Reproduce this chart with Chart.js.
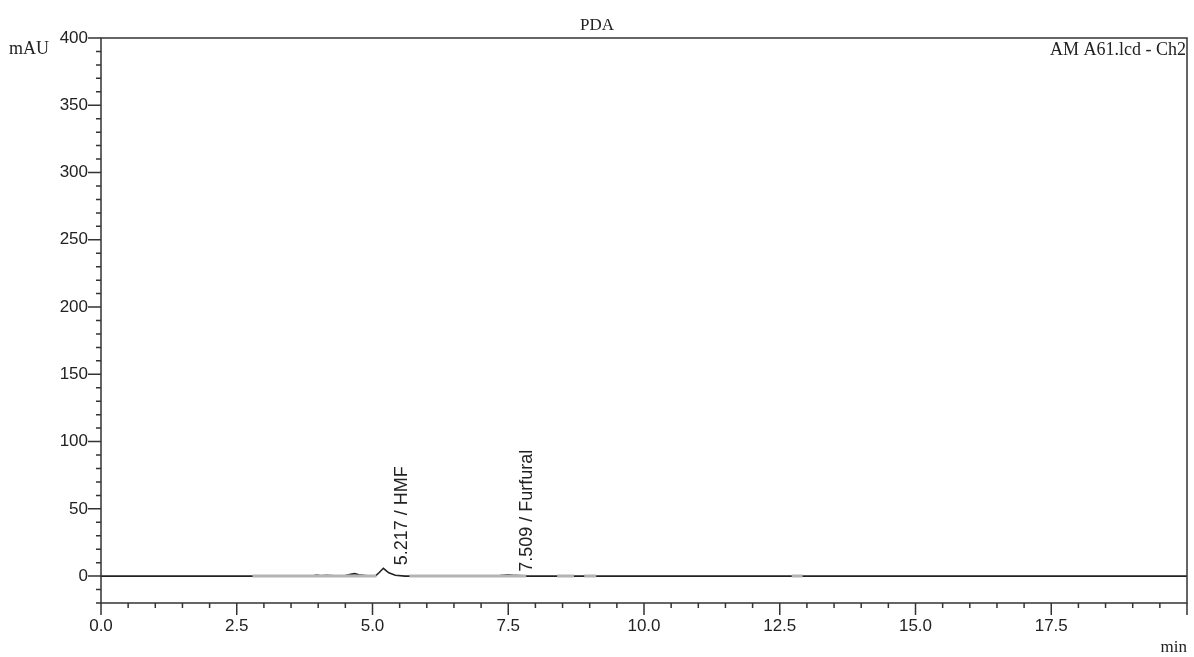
<!DOCTYPE html>
<html>
<head>
<meta charset="utf-8">
<script src="https://cdn.jsdelivr.net/npm/chart.js@4.4.1/dist/chart.umd.min.js"></script>
<style>
  html, body { margin: 0; padding: 0; background: #fff; }
  #wrap { width: 1194px; height: 657px; }
</style>
</head>
<body>
<div id="wrap"><canvas id="pdaChart" width="1194" height="657"></canvas></div>
<script>
// chromatogram trace (min, mAU)
var traceTime = [0, 2.8, 3.3, 3.42, 3.5, 3.6, 3.75, 3.9, 3.97, 4.05, 4.15, 4.3, 4.5, 4.6, 4.67, 4.75, 4.9,
                 5.05, 5.12, 5.2, 5.3, 5.42, 5.6, 6.0, 7.2, 7.35, 7.5, 7.62, 7.85, 8.5, 9.0, 12.8, 20];
var traceMAU  = [0, 0, 0, 0.3, 0.2, 0, 0, 0, 0.8, 0.3, 0.5, 0.2, 0.4, 1.3, 1.8, 1.0, 0.2,
                 0, 2.5, 5.8, 2.4, 0.6, 0, 0, 0, 0.4, 1.0, 0.5, 0, 0, 0, 0, 0];

// integration baselines (grey segments)
var baseStart = [2.79, 5.68, 8.40, 8.90, 12.72];
var baseEnd   = [5.07, 7.83, 8.71, 9.12, 12.92];

// peak labels
var peakTime   = [5.217, 7.509];
var peakHeight = [5.8, 1.0];
var peakName   = ['HMF', 'Furfural'];

var xTicks = [0, 2.5, 5, 7.5, 10, 12.5, 15, 17.5];
var yTicks = [0, 50, 100, 150, 200, 250, 300, 350, 400];

var serif = "'Liberation Serif', 'Times New Roman', serif";
var sans = "'Liberation Sans', Arial, sans-serif";
var ink = '#222';

function isMajor(v, list) {
    return list.some(function (t) { return Math.abs(t - v) < 1e-6; });
}

var traceData = traceTime.map(function (t, i) { return {x: t, y: traceMAU[i]}; });
var baseData = [];
baseStart.forEach(function (s, i) {
    baseData.push({x: s, y: 0}, {x: baseEnd[i], y: 0}, {x: baseEnd[i] + 0.001, y: null});
});

const frameAndTicks = {
    id: 'frameAndTicks',
    afterDraw(chart) {
        const {ctx, chartArea: a, scales} = chart;
        const x = scales.x, y = scales.y;
        ctx.save();
        ctx.strokeStyle = '#333';
        ctx.lineWidth = 1.5;
        ctx.strokeRect(a.left, a.top, a.right - a.left, a.bottom - a.top);
        ctx.beginPath();
        x.ticks.forEach(function (t) {
            const px = x.getPixelForValue(t.value);
            const len = (isMajor(t.value, xTicks) || t.value >= 20) ? 12 : 5;
            ctx.moveTo(px, a.bottom);
            ctx.lineTo(px, a.bottom + len);
        });
        y.ticks.forEach(function (t) {
            const py = y.getPixelForValue(t.value);
            const len = isMajor(t.value, yTicks) ? 13 : 5;
            ctx.moveTo(a.left, py);
            ctx.lineTo(a.left - len, py);
        });
        ctx.stroke();

        // texts
        ctx.fillStyle = ink;
        ctx.font = '17px ' + serif;
        ctx.textBaseline = 'middle';
        ctx.textAlign = 'center';
        ctx.fillText('PDA', 597, 26);
        ctx.textAlign = 'left';
        ctx.font = '18px ' + serif;
        ctx.fillText('mAU', 9, 49);
        ctx.textAlign = 'right';
        ctx.fillText('AM A61.lcd - Ch2', a.right - 1, 50);
        ctx.font = '17px ' + serif;
        ctx.fillText('min', a.right, 648);

        // peak annotations
        peakTime.forEach(function (t, i) {
            const px = x.getPixelForValue(t) + 18;
            const py = y.getPixelForValue(peakHeight[i]) - 3;
            ctx.save();
            ctx.translate(px, py);
            ctx.rotate(-Math.PI / 2);
            ctx.textAlign = 'left';
            ctx.textBaseline = 'middle';
            ctx.font = '18px ' + sans;
            ctx.fillText(t.toFixed(3) + ' / ' + peakName[i], 0, 0);
            ctx.restore();
        });
        ctx.restore();
    }
};

var ctx = document.getElementById('pdaChart').getContext('2d');
var pdaChart = new Chart(ctx, {
    type: 'line',
    data: {
        datasets: [{
            data: baseData,
            borderColor: '#b4b4b4',
            borderWidth: 3,
            pointRadius: 0,
            spanGaps: false,
            order: 0
        }, {
            data: traceData,
            borderColor: '#222',
            borderWidth: 1.6,
            pointRadius: 0,
            tension: 0,
            order: 1
        }]
    },
    options: {
        responsive: false,
        animation: false,
        layout: { padding: { top: 38, right: 7, left: 0, bottom: 0 } },
        plugins: { legend: false, tooltip: false, title: { display: false } },
        scales: {
            x: {
                type: 'linear',
                min: 0,
                max: 20,
                grid: { display: false, drawTicks: false },
                border: { display: false },
                ticks: {
                    stepSize: 0.5,
                    autoSkip: false,
                    maxRotation: 0,
                    padding: 13,
                    color: ink,
                    font: { family: sans, size: 17 },
                    callback: function (v) {
                        return (isMajor(v, xTicks)) ? v.toFixed(1) : '';
                    }
                },
                afterFit: function (scale) {
                    scale.height = 54;
                    scale.paddingRight = 0;
                    scale.paddingLeft = 0;
                }
            },
            y: {
                min: -20,
                max: 400,
                grid: { display: false, drawTicks: false },
                border: { display: false },
                ticks: {
                    stepSize: 10,
                    autoSkip: false,
                    padding: 13,
                    color: ink,
                    font: { family: sans, size: 17 },
                    callback: function (v) {
                        return isMajor(v, yTicks) ? String(v) : '';
                    }
                },
                afterFit: function (scale) { scale.width = 101; }
            }
        }
    },
    plugins: [frameAndTicks]
});
</script>
</body>
</html>
